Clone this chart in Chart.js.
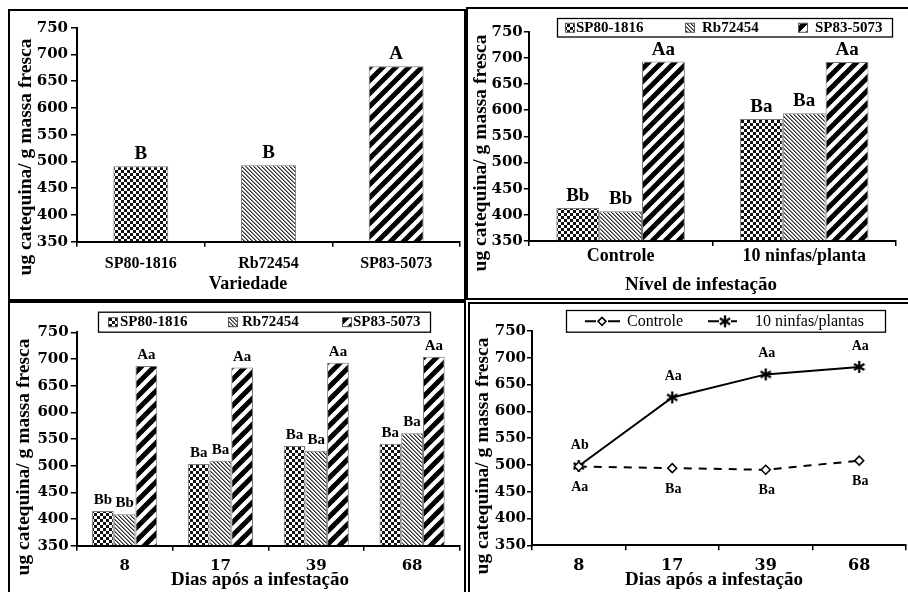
<!DOCTYPE html>
<html><head><meta charset="utf-8">
<script src="https://cdn.jsdelivr.net/npm/chart.js@4/dist/chart.umd.min.js"></script>
<style>
html,body{margin:0;padding:0;background:#fff;}
body{width:908px;height:592px;overflow:hidden;position:relative}
.frame{position:absolute;border:2px solid #000;box-sizing:border-box}
canvas{position:absolute}
</style></head><body>
<div class="frame" style="left:8px;top:9px;width:458px;height:292px"></div>
<div class="frame" style="left:466px;top:7px;width:460px;height:293px"></div>
<div class="frame" style="left:8px;top:301px;width:458px;height:310px"></div>
<div class="frame" style="left:468px;top:302px;width:460px;height:310px"></div>
<canvas id="cA" width="455" height="288" style="left:10px;top:11px;width:455px;height:288px"></canvas>
<canvas id="cB" width="440" height="289" style="left:468px;top:9px;width:440px;height:289px"></canvas>
<canvas id="cC" width="455" height="289" style="left:10px;top:303px;width:455px;height:289px"></canvas>
<canvas id="cD" width="445" height="289" style="left:470px;top:304px;width:445px;height:289px"></canvas>
<script>
// ---------------- DATA ----------------
const varieties = ['SP80-1816', 'Rb72454', 'SP83-5073'];
const varietyMeans = [491, 493, 678];
const varietyLetters = ['B', 'B', 'A'];

const infestLevels = ['Controle', '10 ninfas/planta'];
const levelSP80 = [413, 583];
const levelRb = [407, 594];
const levelSP83 = [693, 692];
const levelLettersSP80 = ['Bb', 'Ba'];
const levelLettersRb = ['Bb', 'Ba'];
const levelLettersSP83 = ['Aa', 'Aa'];

const days = ['8', '17', '39', '68'];
const daysSP80 = [415, 503, 537, 541];
const daysRb = [409, 509, 528, 561];
const daysSP83 = [687, 684, 693, 704];
const daysLettersSP80 = ['Bb', 'Ba', 'Ba', 'Ba'];
const daysLettersRb = ['Bb', 'Ba', 'Ba', 'Ba'];
const daysLettersSP83 = ['Aa', 'Aa', 'Aa', 'Aa'];

const lineSeriesNames = ['Controle', '10 ninfas/plantas'];
const lineControle = [497, 494, 491, 508];
const lineInfest = [498, 626, 669, 683];
const lettersControle = ['Aa', 'Ba', 'Ba', 'Ba'];
const lettersInfest = ['Ab', 'Aa', 'Aa', 'Aa'];

const yMin = 350, yMax = 750, yStep = 50;
const yTitle = 'ug catequina/ g massa fresca';
const xTitleA = 'Variedade';
const xTitleB = 'Nível de infestação';
const xTitleCD = 'Dias após a infestação';

// ---------------- STYLE HELPERS ----------------
const SERIF = "'Liberation Serif', 'Times New Roman', serif";
const NUMF = "'DejaVu Serif', serif";

function patCanvas(w, h, draw) {
  const c = document.createElement('canvas'); c.width = w; c.height = h;
  const g = c.getContext('2d'); g.fillStyle = '#fff'; g.fillRect(0, 0, w, h); draw(g, w, h);
  return c;
}
const tmp = document.createElement('canvas').getContext('2d');
const checkPat = tmp.createPattern(patCanvas(6, 6, (g) => {
  g.fillStyle = '#111'; g.fillRect(0, 0, 3, 3); g.fillRect(3, 3, 3, 3);
}), 'repeat');
const finePat = tmp.createPattern(patCanvas(4, 4, (g) => {
  g.fillStyle = '#2a2a2a';
  for (let i = 0; i < 4; i++) g.fillRect(i, i, 1, 1);
  g.fillStyle = '#888';
  for (let i = 0; i < 4; i++) g.fillRect((i + 1) % 4, i, 1, 1);
}), 'repeat');
const stripePat = tmp.createPattern(patCanvas(13, 13, (g, s) => {
  g.strokeStyle = '#000'; g.lineWidth = 5; g.lineCap = 'square';
  for (const c of [0, s, 2 * s]) {
    g.beginPath(); g.moveTo(c - s - 2, s + 2); g.lineTo(c + 2, -2); g.stroke();
  }
}), 'repeat');
const fills = [checkPat, finePat, stripePat];

function makeStar(size) {
  const c = document.createElement('canvas'); c.width = c.height = size;
  const g = c.getContext('2d'); g.strokeStyle = '#000'; g.lineWidth = 2.3;
  const r = size / 2 - 1, cx = size / 2;
  for (const a of [Math.PI / 2, Math.PI / 6, 5 * Math.PI / 6]) {
    g.beginPath();
    g.moveTo(cx + r * Math.cos(a), cx - r * Math.sin(a));
    g.lineTo(cx - r * Math.cos(a), cx + r * Math.sin(a));
    g.stroke();
  }
  return c;
}
const starImg = makeStar(14);

// ---------------- DECORATION PLUGIN ----------------
const deco = {
  id: 'deco',
  afterDraw(chart, args, o) {
    const ctx = chart.ctx;
    ctx.save();
    ctx.fillStyle = '#000';
    // y title
    ctx.save();
    ctx.font = 'bold 19.5px ' + SERIF;
    ctx.translate(o.yt[0], o.yt[1]); ctx.rotate(-Math.PI / 2);
    ctx.textAlign = 'center'; ctx.textBaseline = 'middle';
    ctx.fillText(yTitle, 0, 0);
    ctx.restore();
    // x title
    ctx.font = 'bold ' + (o.xtSize || 19) + 'px ' + SERIF;
    ctx.textAlign = 'center'; ctx.textBaseline = 'middle';
    ctx.fillText(o.xtText, o.xt[0], o.xt[1]);
    // letters
    if (o.barLetters) {
      ctx.font = 'bold ' + o.letterSize + 'px ' + SERIF;
      ctx.textAlign = 'center'; ctx.textBaseline = 'alphabetic';
      o.barLetters.forEach((arr, di) => {
        const meta = chart.getDatasetMeta(di);
        meta.data.forEach((el, j) => ctx.fillText(arr[j], el.x, el.y - 7));
      });
    }
    if (o.lineLetters) {
      ctx.font = 'bold ' + o.letterSize + 'px ' + SERIF;
      ctx.textAlign = 'center'; ctx.textBaseline = 'middle';
      o.lineLetters.forEach((spec) => {
        const meta = chart.getDatasetMeta(spec.ds);
        meta.data.forEach((el, j) => ctx.fillText(spec.text[j], el.x + 1, el.y + spec.dy));
      });
    }
    // legend
    if (o.legend) {
      const L = o.legend;
      ctx.lineWidth = 1.3; ctx.strokeStyle = '#000';
      ctx.fillStyle = '#fff';
      ctx.fillRect(L.box[0], L.box[1], L.box[2], L.box[3]);
      ctx.strokeRect(L.box[0] + 0.5, L.box[1] + 0.5, L.box[2], L.box[3]);
      const cy = L.box[1] + L.box[3] / 2 + 0.5;
      ctx.font = (L.weight || 'bold') + ' ' + L.size + 'px ' + SERIF;
      ctx.textAlign = 'left'; ctx.textBaseline = 'middle';
      L.items.forEach((it, i) => {
        const ds = chart.data.datasets[i];
        if (L.type === 'bar') {
          ctx.fillStyle = fills[i];
          ctx.fillRect(it.sw - 4.5, cy - 4.5, 9, 9);
          ctx.lineWidth = 1; ctx.strokeStyle = '#555';
          ctx.strokeRect(it.sw - 4.5, cy - 4.5, 9, 9);
        } else {
          ctx.strokeStyle = '#000'; ctx.lineWidth = 2;
          ctx.beginPath(); ctx.moveTo(it.l0, cy); ctx.lineTo(it.sw - 6, cy);
          ctx.moveTo(it.sw + 6, cy); ctx.lineTo(it.l1, cy); ctx.stroke();
          if (ds.pointStyle === 'rectRot') {
            ctx.fillStyle = '#fff'; ctx.lineWidth = 1.5;
            ctx.beginPath(); ctx.moveTo(it.sw, cy - 4); ctx.lineTo(it.sw + 4, cy);
            ctx.lineTo(it.sw, cy + 4); ctx.lineTo(it.sw - 4, cy); ctx.closePath();
            ctx.fill(); ctx.stroke();
          } else {
            ctx.drawImage(starImg, it.sw - 7, cy - 7);
          }
        }
        ctx.fillStyle = '#000';
        ctx.fillText(ds.label, it.tx, cy);
      });
    }
    ctx.restore();
  }
};

function yScale(width, size, pad, tl) {
  return {
    min: yMin, max: yMax,
    ticks: { stepSize: yStep, color: '#000', padding: pad, font: { family: NUMF, weight: 'bold', size: size } },
    grid: { drawOnChartArea: false, drawTicks: true, tickLength: tl, color: '#000', lineWidth: 1.5 },
    border: { display: true, color: '#000', width: 2 },
    afterFit: (s) => { s.width = width; }
  };
}
function xScale(height, font, pad) {
  return {
    offset: true,
    ticks: { color: '#000', padding: pad, maxRotation: 0, autoSkip: false, font: font },
    grid: { offset: true, drawOnChartArea: false, drawTicks: true, tickLength: 5, color: '#000', lineWidth: 1.5 },
    border: { display: true, color: '#000', width: 2 },
    afterFit: (s) => { s.height = height; }
  };
}
const barStyle = { borderColor: '#777', borderWidth: 1, base: yMin, borderSkipped: 'start' };
const common = { responsive: false, animation: false, events: [] };

// ---------------- PANEL A ----------------
new Chart(document.getElementById('cA'), {
  type: 'bar',
  data: { labels: varieties, datasets: [{ label: 'média', data: varietyMeans, backgroundColor: fills, ...barStyle,
    barPercentage: 0.43, categoryPercentage: 1 }] },
  options: { ...common,
    layout: { padding: { top: 16.7, right: 5, left: 0, bottom: 0 } },
    plugins: { legend: { display: false }, tooltip: { enabled: false },
      deco: { yt: [16, 146], xt: [238, 273], xtText: xTitleA, xtSize: 18, letterSize: 19, barLetters: [varietyLetters] } },
    scales: { y: yScale(67, 15, 3, 6), x: xScale(57.3, { family: SERIF, weight: 'bold', size: 16 }, 8) }
  },
  plugins: [deco]
});

// ---------------- PANEL B ----------------
new Chart(document.getElementById('cB'), {
  type: 'bar',
  data: { labels: infestLevels, datasets: [
    { label: varieties[0], data: levelSP80, backgroundColor: fills[0], ...barStyle },
    { label: varieties[1], data: levelRb, backgroundColor: fills[1], ...barStyle },
    { label: varieties[2], data: levelSP83, backgroundColor: fills[2], ...barStyle }
  ] },
  options: { ...common,
    datasets: { bar: { barPercentage: 1, categoryPercentage: 0.7 } },
    layout: { padding: { top: 22.7, right: 12, left: 0, bottom: 0 } },
    plugins: { legend: { display: false }, tooltip: { enabled: false },
      deco: { yt: [13, 144], xt: [233, 276], xtText: xTitleB, letterSize: 19,
        barLetters: [levelLettersSP80, levelLettersRb, levelLettersSP83],
        legend: { type: 'bar', box: [89, 9, 335, 18.5], size: 15,
          items: [{ sw: 102, tx: 108 }, { sw: 222, tx: 234 }, { sw: 335, tx: 347 }] } } },
    scales: { y: yScale(60.8, 15, 1, 5), x: xScale(57, { family: SERIF, weight: 'bold', size: 18 }, 0) }
  },
  plugins: [deco]
});

// ---------------- PANEL C ----------------
new Chart(document.getElementById('cC'), {
  type: 'bar',
  data: { labels: days, datasets: [
    { label: varieties[0], data: daysSP80, backgroundColor: fills[0], ...barStyle },
    { label: varieties[1], data: daysRb, backgroundColor: fills[1], ...barStyle },
    { label: varieties[2], data: daysSP83, backgroundColor: fills[2], ...barStyle }
  ] },
  options: { ...common,
    datasets: { bar: { barPercentage: 1, categoryPercentage: 0.68 } },
    layout: { padding: { top: 29.3, right: 5, left: 0, bottom: 0 } },
    plugins: { legend: { display: false }, tooltip: { enabled: false },
      deco: { yt: [14, 154], xt: [250, 277], xtText: xTitleCD, letterSize: 15,
        barLetters: [daysLettersSP80, daysLettersRb, daysLettersSP83],
        legend: { type: 'bar', box: [88, 8.7, 332, 20], size: 15,
          items: [{ sw: 103, tx: 110 }, { sw: 223, tx: 232 }, { sw: 337, tx: 343 }] } } },
    scales: { y: yScale(66.7, 15, 2, 6), x: xScale(46.3, { family: NUMF, weight: 'bold', size: 15 }, 6) }
  },
  plugins: [deco]
});

// ---------------- PANEL D ----------------
new Chart(document.getElementById('cD'), {
  type: 'line',
  data: { labels: days, datasets: [
    { label: lineSeriesNames[0], data: lineControle, borderColor: '#000', borderWidth: 2, borderDash: [8, 7],
      pointStyle: 'rectRot', pointRadius: 4.5, pointBackgroundColor: '#fff', pointBorderColor: '#000', pointBorderWidth: 1.5, tension: 0 },
    { label: lineSeriesNames[1], data: lineInfest, borderColor: '#000', borderWidth: 2,
      pointStyle: starImg, pointRadius: 7, tension: 0 }
  ] },
  options: { ...common,
    layout: { padding: { top: 27, right: 4, left: 0, bottom: 0 } },
    plugins: { legend: { display: false }, tooltip: { enabled: false },
      deco: { yt: [13, 152], xt: [244, 276], xtText: xTitleCD, letterSize: 14,
        lineLetters: [{ ds: 1, text: lettersInfest, dy: -21 }, { ds: 0, text: lettersControle, dy: 21 }],
        legend: { type: 'line', weight: 'normal', box: [96, 6, 319, 21.7], size: 16,
          items: [{ l0: 115, l1: 150, sw: 132, tx: 157 }, { l0: 238, l1: 267, sw: 255, tx: 285 }] } } },
    scales: { y: yScale(62, 15, 1, 5), x: xScale(47.7, { family: NUMF, weight: 'bold', size: 16 }, 6) }
  },
  plugins: [deco]
});
</script>
</body></html>
